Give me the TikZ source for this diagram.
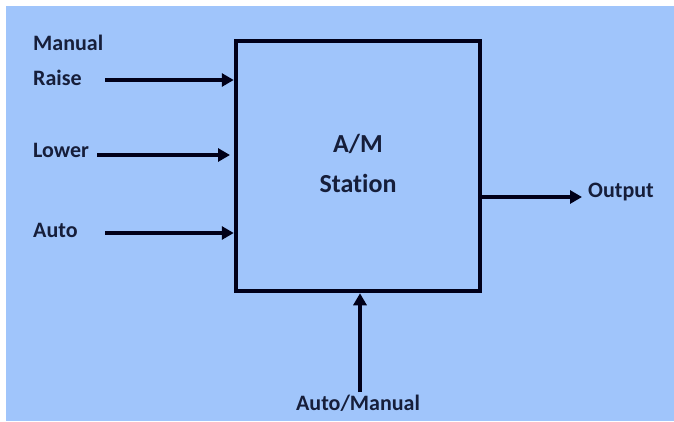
\documentclass[tikz,border=0pt]{standalone}
\usepackage{fontspec}
\setmainfont{Carlito}[Ligatures={NoCommon}]
\usetikzlibrary{arrows.meta}
\definecolor{bgblue}{RGB}{160,197,251}
\definecolor{ink}{RGB}{22,30,58}
\begin{document}
\begin{tikzpicture}[x=1pt,y=-1pt,
  lbl/.style={font=\fontsize{22}{26}\selectfont\bfseries, text=ink, inner sep=0pt, anchor=base west},
  conn/.style={line width=4.5pt, draw=black!90!blue, -{Triangle[length=12pt,width=13pt]}}]
\useasboundingbox (0,0) rectangle (674,421);
\fill[bgblue] (6,6) rectangle (674,421);
\node[draw=black!90!blue, line width=4.5pt, minimum width=244pt, minimum height=250pt, inner sep=0pt] (box) at (358,166) {};
\node[font=\fontsize{26}{40}\selectfont\bfseries, text=ink, align=center, inner sep=0pt] (title) at (358,163) {A/M\\Station};
\node[lbl] (manual) at (33,50) {Manual};
\node[lbl] (raise) at (33,85) {Raise};
\node[lbl] (lower) at (33,157) {Lower};
\node[lbl] (auto) at (33,237) {Auto};
\node[lbl] (output) at (588,197) {Output};
\node[lbl, anchor=base] (am) at (358,410) {Auto/Manual};
\coordinate (r0) at (105,80);
\coordinate (l0) at (97,155);
\coordinate (l1) at (230,155);
\coordinate (a0) at (105,233);
\coordinate (o1) at (582,197);
\coordinate (m0) at (360,392);
\draw[conn] (r0) -- (r0 -| box.west);
\draw[conn] (l0) -- (l1);
\draw[conn] (a0) -- (a0 -| box.west);
\draw[conn] (box.east |- o1) -- (o1);
\draw[conn] (m0) -- (m0 |- box.south);
\end{tikzpicture}
\end{document}
